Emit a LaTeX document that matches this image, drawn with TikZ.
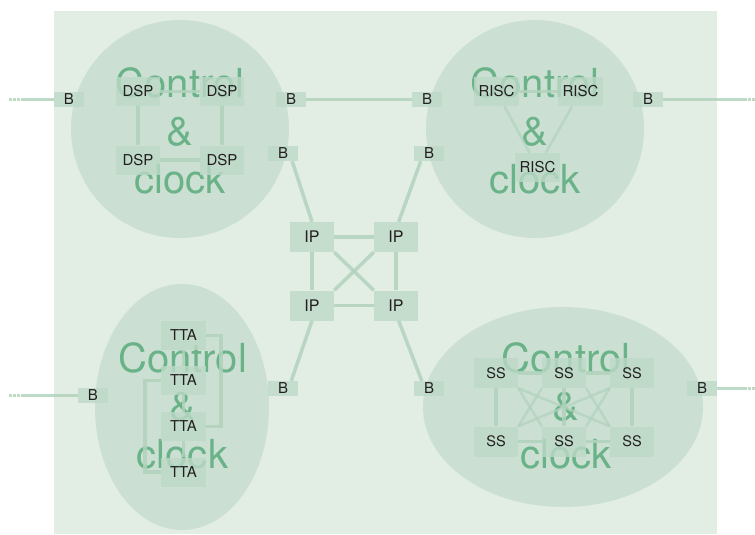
\documentclass[tikz,border=0pt]{standalone}
\usepackage{fontspec}
\setmainfont{TeX Gyre Heros}
\usetikzlibrary{calc}
\definecolor{panel}{HTML}{E2EDE4}
\definecolor{blob}{HTML}{CBE0D3}
\definecolor{unit}{HTML}{BDD9C7}
\definecolor{wirec}{HTML}{B1D3BD}
\definecolor{ctltext}{HTML}{6AB287}
\definecolor{ink}{HTML}{231F20}
\pgfdeclarelayer{bg}
\pgfdeclarelayer{wires}
\pgfsetlayers{bg,wires,main}
\tikzset{
  unitbox/.style={fill=unit, fill opacity=0.8, text opacity=1, text=ink,
    inner sep=0pt, minimum width=44pt, minimum height=29pt,
    font=\fontsize{15}{18}\selectfont},
  busbox/.style={unitbox, minimum width=30pt, minimum height=15pt,
    font=\fontsize{15}{16}\selectfont},
  ssbox/.style={unitbox, minimum height=30pt, font=\fontsize{14.5}{16}\selectfont},
  ipbox/.style={unitbox, minimum height=30pt, font=\fontsize{16}{18}\selectfont},
  wire/.style={draw=wirec, line width=3.5pt, draw opacity=0.85},
  thinwire/.style={wire, line width=2.6pt, draw opacity=0.7},
  wireend/.style={wire, dash pattern=on 2.7pt off 1.3pt},
  ctl/.style={text=ctltext, inner sep=0pt, anchor=base,
    font=\fontsize{40}{48}\selectfont},
}
\begin{document}
\begin{tikzpicture}[x=1pt, y=-1pt]
\useasboundingbox (0,0) rectangle (755,535);

% ---------- chip panel, clock domains and their captions ----------
\begin{pgfonlayer}{bg}
  \fill[panel] (54,11) rectangle (717,534);
  \fill[blob] (180,129) circle (109);
  \fill[blob] (535,129) circle (109);
  \fill[blob] (182,407) ellipse (87 and 123);
  \fill[blob] (563,407) ellipse (140 and 100);

  \node[ctl] (capA1) at (180,97)  {Control};
  \node[ctl] (capA2) at (180,145) {\&};
  \node[ctl] (capA3) at (180,193) {clock};
  \node[ctl] (capB1) at (535,97)  {Control};
  \node[ctl] (capB2) at (535,145) {\&};
  \node[ctl] (capB3) at (535,193) {clock};
  \node[ctl] (capC1) at (182.5,372) {Control};
  \node[ctl] (capC2) at (182.5,420) {\&};
  \node[ctl] (capC3) at (182.5,468) {clock};
  \node[ctl] (capD1) at (566,372) {Control};
  \node[ctl] (capD2) at (566,420) {\&};
  \node[ctl] (capD3) at (566,468) {clock};
\end{pgfonlayer}

% ---------- bus interfaces ----------
\node[busbox] (bA) at (69,99.5)   {B};
\node[busbox] (bB) at (291,99.5)  {B};
\node[busbox] (bC) at (283,153.5) {B};
\node[busbox] (bD) at (429,153.5) {B};
\node[busbox] (bE) at (283,388.5) {B};
\node[busbox] (bF) at (429,388.5) {B};
\node[busbox] (bG) at (427,99.5)  {B};
\node[busbox] (bH) at (648,99.5)  {B};
\node[busbox] (bI) at (93,395.5)  {B};
\node[busbox] (bJ) at (702,388.5) {B};

% ---------- DSP domain ----------
\node[unitbox] (dA) at (138,91.5) {DSP};
\node[unitbox] (dB) at (222,91.5) {DSP};
\node[unitbox] (dC) at (138,160)  {DSP};
\node[unitbox] (dD) at (222,160)  {DSP};

% ---------- RISC domain ----------
\node[unitbox, minimum width=45pt] (rA) at (496.5,91.5)  {RISC};
\node[unitbox, minimum width=45pt] (rB) at (580.5,91.5)  {RISC};
\node[unitbox, minimum width=45pt] (rC) at (537.5,167.5) {RISC};

% ---------- TTA domain ----------
\node[unitbox, minimum width=45pt] (tA) at (183.5,335.5) {TTA};
\node[unitbox, minimum width=45pt] (tB) at (183.5,380.5) {TTA};
\node[unitbox, minimum width=45pt] (tC) at (183.5,426.5) {TTA};
\node[unitbox, minimum width=45pt] (tD) at (183.5,472)   {TTA};

% ---------- SS domain ----------
\node[ssbox] (sA) at (496,373)   {SS};
\node[ssbox] (sB) at (564,373)   {SS};
\node[ssbox] (sC) at (632,373)   {SS};
\node[ssbox] (sD) at (496,441.5) {SS};
\node[ssbox] (sE) at (564,441.5) {SS};
\node[ssbox] (sF) at (632,441.5) {SS};

% ---------- central IP switch ----------
\node[ipbox] (iA) at (312,237)   {IP};
\node[ipbox] (iB) at (396,237)   {IP};
\node[ipbox] (iC) at (312,305.5) {IP};
\node[ipbox] (iD) at (396,305.5) {IP};

% ---------- off-chip stubs ----------
\coordinate (xA0) at (9,99.5);    \coordinate (xA1) at (21,99.5);
\coordinate (xH0) at (755,99.5);  \coordinate (xH1) at (747,99.5);
\coordinate (xI0) at (9,395.5);   \coordinate (xI1) at (21,395.5);
\coordinate (xJ0) at (755,388.5); \coordinate (xJ1) at (747,388.5);

% ---------- interconnect ----------
\begin{pgfonlayer}{wires}
  % off-chip links
  \draw[wire] (xA1) -- (bA.west);
  \draw[wireend] (xA0) -- (xA1);
  \draw[wire] (bH.east) -- (xH1);
  \draw[wireend] (xH0) -- (xH1);
  \draw[wire] (xI1) -- (bI.west);
  \draw[wireend] (xI0) -- (xI1);
  \draw[wire] (bJ.east) -- (xJ1);
  \draw[wireend] (xJ0) -- (xJ1);

  % bus between the upper domains
  \draw[wire] (bB) -- (bG);

  % buses into the IP switch
  \draw[wire] (bC.-40) -- (iA.north);
  \draw[wire] (bD.-137) -- (iB.80);
  \draw[wire] (iC.south) -- (bE.43);
  \draw[wire] (iD.-80) -- (bF.133);

  % IP switch mesh
  \draw[wire] (iA) -- (iB);
  \draw[wire] (iC) -- (iD);
  \draw[wire] (iA) -- (iC);
  \draw[wire] (iB) -- (iD);
  \draw[wire] (iA.south east) -- (iD.north west);
  \draw[wire] (iB.south west) -- (iC.north east);

  % DSP ring
  \draw[wire] (dA) -- (dB);
  \draw[wire] (dA) -- (dC);
  \draw[wire] (dB) -- (dD);
  \draw[wire] (dC) -- (dD);

  % RISC triangle
  \draw[wire] (rA) -- (rB);
  \draw[thinwire] (rA) -- (rC);
  \draw[thinwire] (rB) -- (rC);

  % TTA chain and side links
  \draw[wire] (tA) -- (tB);
  \draw[wire] (tB) -- (tC);
  \draw[wire] (tC) -- (tD);
  \draw[wire] (tA.east) -- ++(15,0) |- (tC.east);
  \draw[wire] (tB.west) -- ++(-16,0) |- (tD.west);

  % SS rows and full cross links
  \draw[wire] (sA) -- (sB);
  \draw[wire] (sB) -- (sC);
  \draw[wire] (sD) -- (sE);
  \draw[wire] (sE) -- (sF);
  \draw[wire] (sA) -- (sD);
  \draw[wire] (sB) -- (sE);
  \draw[wire] (sC) -- (sF);
  \draw[thinwire] (sA.south east) -- (sE.north west);
  \draw[thinwire] (sA.south east) -- (sF.north west);
  \draw[thinwire] (sB.south east) -- (sF.north west);
  \draw[thinwire] (sD.north east) -- (sB.south west);
  \draw[thinwire] (sD.north east) -- (sC.south west);
  \draw[thinwire] (sE.north east) -- (sC.south west);
\end{pgfonlayer}
\end{tikzpicture}
\end{document}
